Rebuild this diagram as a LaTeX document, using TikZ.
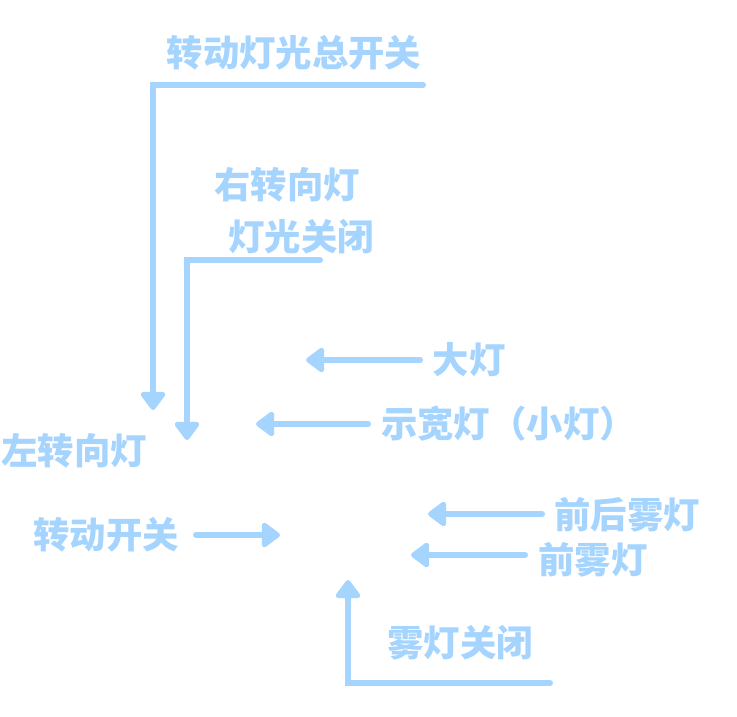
\documentclass[tikz,border=0pt]{standalone}
\usepackage{fontspec}
\setmainfont{Noto Sans CJK SC}
\usetikzlibrary{arrows.meta}
\definecolor{lblue}{HTML}{A5D4FF}
\tikzset{
  lbl/.style={text=lblue, font=\fontsize{36.5}{42}\selectfont\bfseries, inner sep=0pt},
  conn/.style={draw=lblue, line width=6bp, line cap=round, line join=miter,
    -{Triangle[length=20bp,width=28bp,round]}},
}
\begin{document}
\begin{tikzpicture}[x=1bp,y=-1bp]
\useasboundingbox[fill=white] (0,0) rectangle (737,717);
% labels
\node[lbl] (main) at (294,53) {转动灯光总开关};
\node[lbl] (right) at (287,185) {右转向灯};
\node[lbl] (rclose) at (301,237) {灯光关闭};
\node[lbl] (big) at (469,360) {大灯};
\node[lbl, anchor=west] (small) at (381,424) {示宽灯（小灯）};
\node[lbl] (left) at (74,451) {左转向灯};
\node[lbl] (turn) at (106,535) {转动开关};
\node[lbl] (fog2) at (627,515) {前后雾灯};
\node[lbl] (fog1) at (593,560) {前雾灯};
\node[lbl] (fogoff) at (460,643) {雾灯关闭};
% connector end points
\coordinate (mainS) at (423,85);
\coordinate (mainT) at (153,410);
\coordinate (rS) at (320,260);
\coordinate (rT) at (187,440);
\coordinate (bigS) at (420,360);
\coordinate (bigT) at (306,360);
\coordinate (smS) at (368,424);
\coordinate (smT) at (256,424);
\coordinate (turnS) at (196,535);
\coordinate (turnT) at (280,535);
\coordinate (f2S) at (542,514);
\coordinate (f2T) at (428,514);
\coordinate (f1S) at (525,555);
\coordinate (f1T) at (411,555);
\coordinate (foS) at (550,683);
\coordinate (foT) at (348,580);
% connectors
\draw[conn] (mainS) -| (mainT);
\draw[conn] (rS) -| (rT);
\draw[conn] (bigS) -- (bigT);
\draw[conn] (smS) -- (smT);
\draw[conn] (turnS) -- (turnT);
\draw[conn] (f2S) -- (f2T);
\draw[conn] (f1S) -- (f1T);
\draw[conn] (foS) -| (foT);
\end{tikzpicture}
\end{document}
